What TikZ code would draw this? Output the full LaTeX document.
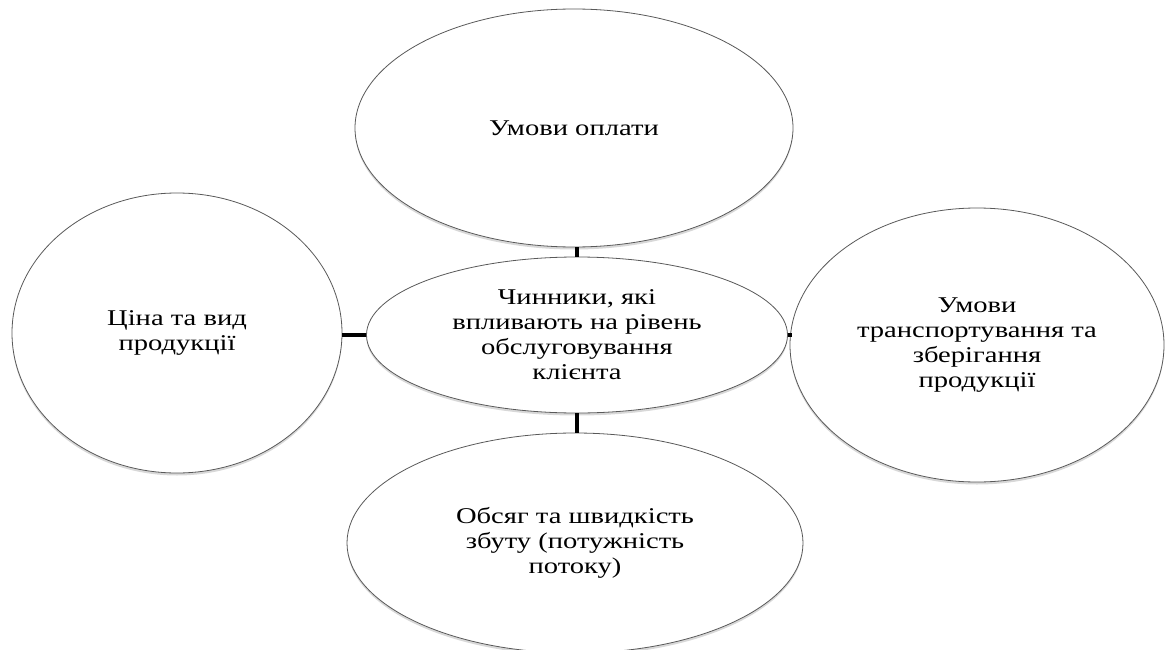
\documentclass[tikz,border=0pt]{standalone}
\usepackage{fontspec}
\setmainfont{Liberation Serif}[FakeStretch=1.27]
\usetikzlibrary{shapes.geometric,shadows}
\begin{document}
\begin{tikzpicture}[x=1pt,y=-1pt,
  factor/.style={ellipse, draw=black!65, line width=0.8pt, fill=white,
    inner sep=0pt, align=center,
    font=\fontsize{22.5}{25}\selectfont,
    drop shadow={shadow xshift=0pt, shadow yshift=-2.5pt, opacity=0.25, fill=black!60}},
  link/.style={draw=black, line width=3.5pt}]
\useasboundingbox[fill=white] (0,0) rectangle (1169,650);

% central factor and the four surrounding ones
\node[factor, minimum width=421pt, minimum height=156pt] (core) at (577,335)
  {Чинники, які\\впливають на рівень\\обслуговування\\клієнта};
\node[factor, minimum width=438pt, minimum height=238pt] (pay) at (574,128)
  {Умови оплати};
\node[factor, minimum width=330pt, minimum height=280pt] (price) at (177,333)
  {Ціна та вид\\продукції};
\node[factor, minimum width=374pt, minimum height=274pt] (trans) at (977,345)
  {Умови\\транспортування та\\зберігання\\продукції};
\node[factor, minimum width=456pt, minimum height=220pt] (vol) at (575,543)
  {Обсяг та швидкість\\збуту (потужність\\потоку)};

% short joints between the core and each factor
\draw[link] (core.north) -- (core.north |- pay.south);
\draw[link] (core.west) -- (core.west -| price.east);
\draw[link] (core.east) -- ([xshift=2pt]core.east -| trans.west);
\draw[link] (core.south) -- (core.south |- vol.north);
\end{tikzpicture}
\end{document}
